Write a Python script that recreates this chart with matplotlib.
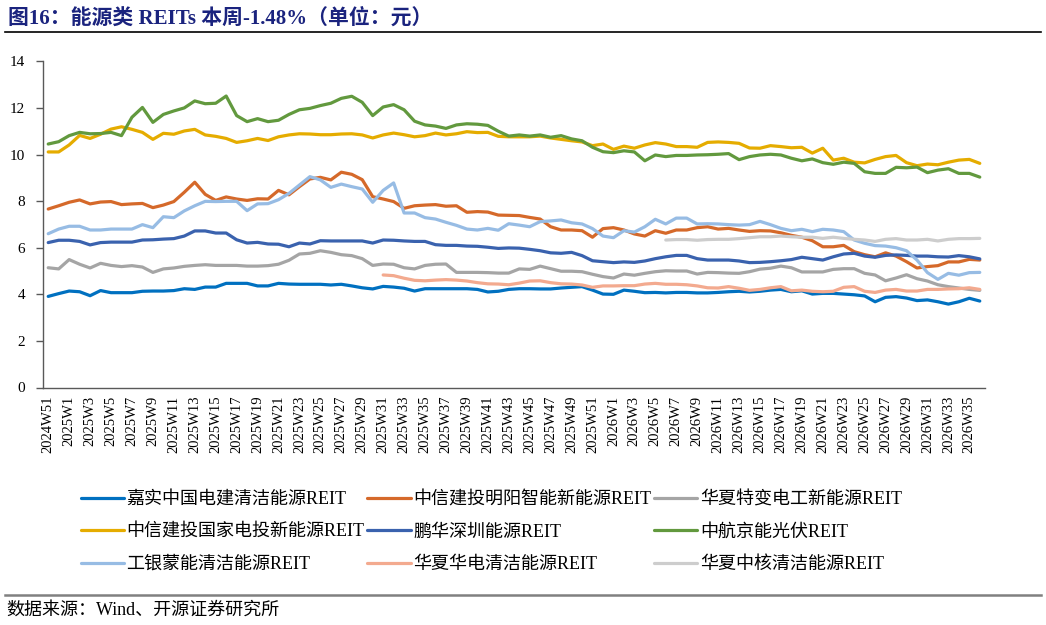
import numpy as np
import matplotlib
matplotlib.use("Agg")
import matplotlib.pyplot as plt

# --- FONTES ---
# Latim em serif (parecido com Times), caracteres chineses caem no Noto Sans CJK
plt.rcParams['font.family'] = ['Liberation Serif', 'Noto Sans CJK SC']
plt.rcParams['axes.unicode_minus'] = False

# --- DADOS ---

# Semanas (eixo X): 2024W51 ... 2026W36
semanas = ["2024W51", "2024W52"] + ["2025W%d" % k for k in range(1, 53)] + ["2026W%d" % k for k in range(1, 37)]

nan = np.nan

jiashi = [3.91, 4.03, 4.14, 4.11, 3.94, 4.16, 4.07, 4.07, 4.07, 4.13, 4.14, 4.14, 4.16, 4.24, 4.21, 4.31, 4.31, 4.47, 4.47, 4.47, 4.36, 4.36, 4.47,
          4.44, 4.43, 4.43, 4.43, 4.40, 4.43, 4.36, 4.28, 4.23, 4.34, 4.31, 4.26, 4.14, 4.24, 4.24, 4.24, 4.24, 4.24, 4.21, 4.10, 4.13, 4.21, 4.24,
          4.24, 4.23, 4.23, 4.27, 4.30, 4.33, 4.18, 4.01, 4.00, 4.18, 4.13, 4.07, 4.08, 4.06, 4.08, 4.08, 4.06, 4.06, 4.08, 4.11, 4.13, 4.10,
          4.13, 4.18, 4.21, 4.11, 4.15, 4.01, 4.04, 4.04, 4.01, 3.98, 3.93, 3.68, 3.87, 3.90, 3.84, 3.73, 3.76, 3.68, 3.58, 3.68, 3.83, 3.71]

mingyang = [7.66, 7.80, 7.95, 8.05, 7.88, 7.96, 7.98, 7.85, 7.88, 7.90, 7.72, 7.83, 7.98, 8.38, 8.81, 8.29, 8.03, 8.18, 8.09, 8.03, 8.10, 8.09, 8.46,
            8.27, 8.62, 8.95, 9.02, 8.91, 9.24, 9.15, 8.92, 8.19, 8.09, 7.98, 7.69, 7.80, 7.83, 7.85, 7.78, 7.80, 7.52, 7.55, 7.53, 7.40, 7.39, 7.38,
            7.30, 7.23, 6.90, 6.76, 6.76, 6.73, 6.45, 6.82, 6.86, 6.76, 6.59, 6.50, 6.73, 6.62, 6.76, 6.76, 6.86, 6.90, 6.80, 6.83, 6.76, 6.70,
            6.73, 6.72, 6.64, 6.53, 6.45, 6.30, 6.04, 6.04, 6.10, 5.83, 5.70, 5.61, 5.78, 5.64, 5.40, 5.13, 5.19, 5.23, 5.39, 5.39, 5.50, 5.47]

tebian = [5.14, 5.09, 5.49, 5.29, 5.13, 5.33, 5.24, 5.19, 5.23, 5.17, 4.94, 5.09, 5.13, 5.20, 5.24, 5.27, 5.24, 5.24, 5.24, 5.21, 5.21, 5.23, 5.29,
          5.46, 5.73, 5.76, 5.87, 5.80, 5.70, 5.66, 5.53, 5.24, 5.30, 5.29, 5.14, 5.09, 5.24, 5.29, 5.30, 4.94, 4.94, 4.94, 4.93, 4.91, 4.91, 5.09,
          5.07, 5.21, 5.10, 4.99, 4.99, 4.97, 4.86, 4.76, 4.70, 4.87, 4.82, 4.90, 4.97, 5.01, 5.00, 5.00, 4.87, 4.94, 4.93, 4.91, 4.90, 4.97,
          5.08, 5.12, 5.21, 5.14, 4.96, 4.96, 4.96, 5.07, 5.10, 5.10, 4.90, 4.83, 4.58, 4.70, 4.84, 4.67, 4.57, 4.41, 4.33, 4.27, 4.21, 4.17]

guojia = [10.11, 10.11, 10.41, 10.82, 10.69, 10.87, 11.09, 11.19, 11.08, 10.95, 10.65, 10.91, 10.87, 11.01, 11.08, 10.84, 10.78, 10.69, 10.52, 10.59, 10.69, 10.60, 10.76,
          10.84, 10.89, 10.88, 10.85, 10.85, 10.88, 10.89, 10.84, 10.71, 10.84, 10.92, 10.85, 10.76, 10.81, 10.92, 10.84, 10.89, 10.98, 10.94, 10.95, 10.78, 10.76, 10.76,
          10.76, 10.79, 10.71, 10.65, 10.59, 10.54, 10.38, 10.45, 10.22, 10.36, 10.27, 10.41, 10.51, 10.45, 10.34, 10.34, 10.31, 10.52, 10.54, 10.52, 10.48, 10.28,
          10.27, 10.38, 10.34, 10.29, 10.31, 10.06, 10.27, 9.76, 9.84, 9.67, 9.64, 9.79, 9.91, 9.96, 9.65, 9.52, 9.59, 9.56, 9.67, 9.76, 9.79, 9.62]

penghua = [6.22, 6.32, 6.32, 6.27, 6.12, 6.22, 6.24, 6.24, 6.24, 6.33, 6.34, 6.37, 6.39, 6.50, 6.72, 6.72, 6.63, 6.63, 6.34, 6.20, 6.23, 6.16, 6.15,
           6.04, 6.20, 6.16, 6.30, 6.29, 6.29, 6.29, 6.29, 6.20, 6.33, 6.32, 6.29, 6.27, 6.27, 6.13, 6.10, 6.10, 6.07, 6.06, 6.02, 5.97, 5.99, 5.98,
           5.93, 5.87, 5.78, 5.76, 5.80, 5.66, 5.44, 5.40, 5.36, 5.39, 5.37, 5.43, 5.53, 5.61, 5.67, 5.67, 5.53, 5.47, 5.47, 5.47, 5.43, 5.36,
           5.37, 5.40, 5.44, 5.49, 5.59, 5.53, 5.47, 5.61, 5.73, 5.76, 5.64, 5.59, 5.67, 5.69, 5.67, 5.64, 5.64, 5.61, 5.60, 5.66, 5.61, 5.52]

jingneng = [10.45, 10.55, 10.81, 10.95, 10.89, 10.90, 10.95, 10.81, 11.60, 12.02, 11.38, 11.72, 11.87, 12.00, 12.30, 12.18, 12.20, 12.51, 11.67, 11.41, 11.54, 11.41, 11.47,
            11.72, 11.92, 11.98, 12.10, 12.20, 12.41, 12.50, 12.24, 11.67, 12.04, 12.14, 11.92, 11.43, 11.27, 11.22, 11.12, 11.27, 11.32, 11.30, 11.25, 11.00, 10.79, 10.84,
            10.79, 10.84, 10.74, 10.81, 10.67, 10.59, 10.31, 10.12, 10.08, 10.16, 10.11, 9.73, 9.98, 9.91, 9.96, 9.96, 9.98, 9.99, 10.01, 10.04, 9.78, 9.91,
            9.98, 10.01, 9.98, 9.84, 9.73, 9.81, 9.65, 9.58, 9.67, 9.62, 9.26, 9.19, 9.19, 9.45, 9.43, 9.46, 9.22, 9.33, 9.39, 9.19, 9.19, 9.03]

mengneng = [6.60, 6.80, 6.92, 6.92, 6.76, 6.76, 6.80, 6.80, 6.80, 6.99, 6.86, 7.33, 7.29, 7.58, 7.80, 7.99, 7.98, 7.99, 7.99, 7.59, 7.88, 7.89, 8.06,
            8.33, 8.69, 9.05, 8.91, 8.59, 8.73, 8.62, 8.52, 7.95, 8.46, 8.78, 7.49, 7.49, 7.29, 7.23, 7.09, 6.96, 6.80, 6.76, 6.83, 6.75, 7.03, 6.97,
            6.90, 7.12, 7.15, 7.19, 7.07, 7.02, 6.82, 6.50, 6.43, 6.73, 6.67, 6.90, 7.22, 7.02, 7.27, 7.27, 7.02, 7.03, 7.02, 6.99, 6.97, 6.99,
            7.13, 6.99, 6.83, 6.73, 6.79, 6.69, 6.79, 6.76, 6.69, 6.33, 6.19, 6.09, 6.07, 6.00, 5.87, 5.47, 4.93, 4.64, 4.90, 4.82, 4.93, 4.94]

huadian = [nan] * 32 + [4.83, 4.80, 4.69, 4.60, 4.58, 4.61, 4.63, 4.61, 4.57, 4.50, 4.45, 4.44, 4.41, 4.48,
                        4.57, 4.58, 4.50, 4.45, 4.44, 4.40, 4.30, 4.36, 4.36, 4.37, 4.37, 4.44, 4.47, 4.43, 4.43, 4.41, 4.36, 4.28, 4.27, 4.33, 4.26, 4.17,
                        4.21, 4.28, 4.33, 4.15, 4.18, 4.13, 4.11, 4.13, 4.30, 4.33, 4.13, 4.08, 4.18, 4.21, 4.14, 4.14, 4.21, 4.21, 4.23, 4.24, 4.28, 4.21]

zhonghe = [nan] * 59 + [6.33, 6.35, 6.35, 6.32, 6.35, 6.36, 6.36, 6.39, 6.43, 6.47,
                        6.47, 6.50, 6.47, 6.45, 6.45, 6.40, 6.45, 6.40, 6.36, 6.33, 6.27, 6.36, 6.39, 6.33, 6.33, 6.36, 6.29, 6.36, 6.39, 6.39, 6.40]

# Ordem da legenda (linha a linha, como no original)
nomes = ["嘉实中国电建清洁能源REIT", "中信建投明阳智能新能源REIT", "华夏特变电工新能源REIT",
         "中信建投国家电投新能源REIT", "鹏华深圳能源REIT", "中航京能光伏REIT",
         "工银蒙能清洁能源REIT", "华夏华电清洁能源REIT", "华夏中核清洁能源REIT"]
series = [jiashi, mingyang, tebian, guojia, penghua, jingneng, mengneng, huadian, zhonghe]
cores = ["#0070C0", "#D5692A", "#A5A5A5", "#E5AC00", "#3A62AE", "#62993E", "#97BCE4", "#F3AA8F", "#CDCDCD"]

# --- PLOTAGEM ---

fig = plt.figure(figsize=(10.46, 6.25), dpi=100)
ax = fig.add_axes([0.0411, 0.38, 0.9006, 0.5219])

x = np.arange(len(semanas))
linhas = []
for nome, valores, cor in zip(nomes, series, cores):
    ln, = ax.plot(x, valores, color=cor, lw=2.3, label=nome, solid_capstyle='round')
    linhas.append(ln)

ax.set_xlim(-0.5, len(semanas) - 0.5)
ax.set_ylim(0, 14)
ax.set_yticks(range(0, 15, 2))
ax.set_xticks(x[::2])
ax.set_xticklabels(semanas[::2], rotation=90, fontsize=10.5)
ax.tick_params(axis='x', length=0, pad=6)
ax.tick_params(axis='y', labelsize=11, length=5, width=1, color="#595959", pad=8)

for lado in ["top", "right"]:
    ax.spines[lado].set_visible(False)
ax.spines["left"].set_color("#595959")
ax.spines["bottom"].set_color("#595959")
ax.spines["left"].set_linewidth(1)
ax.spines["bottom"].set_linewidth(1)

# Legenda: matplotlib preenche por coluna, entao reordena
ordem = [0, 3, 6, 1, 4, 7, 2, 5, 8]
fig.legend([linhas[i] for i in ordem], [nomes[i] for i in ordem],
           ncol=3, loc="upper left", bbox_to_anchor=(0.077, 0.214),
           frameon=False, fontsize=13, handlelength=2.4, handletextpad=0.15,
           columnspacing=0.15, labelspacing=0.85, borderaxespad=0, borderpad=0)

# Titulo e linhas de separacao
fig.text(0.008, 0.971, "图16：能源类 REITs 本周-1.48%（单位：元）", fontsize=15,
         fontweight="bold", color="#1A237E", va="center", ha="left")
fig.add_artist(plt.Line2D([0.005, 0.995], [0.949, 0.949], color="black", lw=1.2))
fig.add_artist(plt.Line2D([0.005, 0.995], [0.048, 0.048], color="#808080", lw=1.8))
fig.text(0.006, 0.024, "数据来源：Wind、开源证券研究所", fontsize=13, color="black",
         va="center", ha="left")

fig.savefig("out.png", dpi=100)
